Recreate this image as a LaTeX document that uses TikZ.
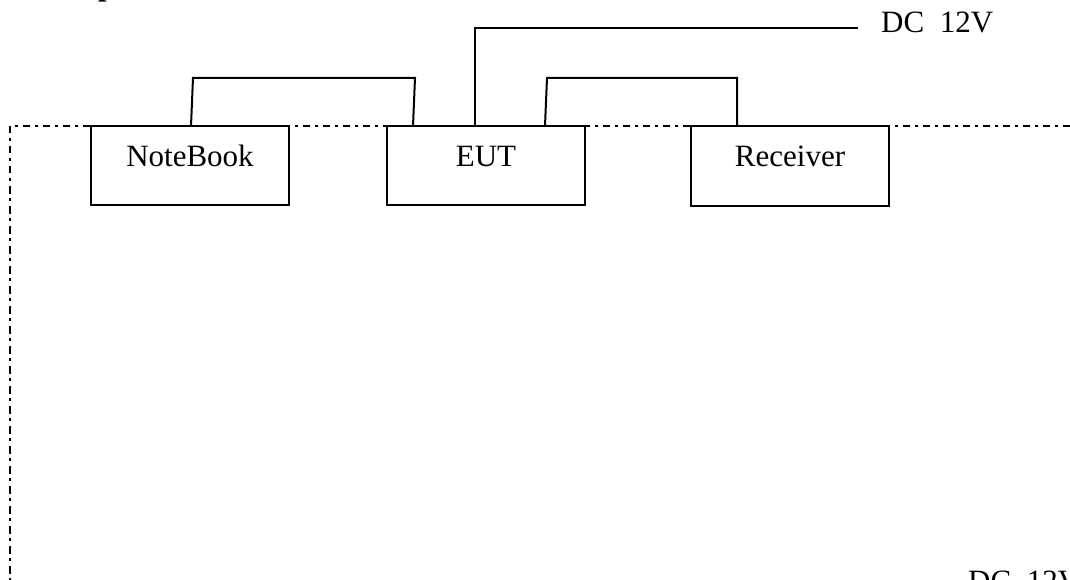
\documentclass[tikz,border=0pt]{standalone}
\usepackage{fontspec}
\setmainfont{Liberation Serif}
\usetikzlibrary{calc}
\tikzset{
  unitbox/.style={draw=black, line width=2pt, fill=white, rectangle, minimum width=198pt, minimum height=79pt, inner sep=0pt},
  lbl/.style={inner sep=0pt, font=\fontsize{31}{36}\selectfont, anchor=base},
  cable/.style={draw=black, line width=2pt},
  frame/.style={draw=black, line width=2.2pt, dash pattern=on 7.5pt off 4.5pt on 3pt off 5pt}
}
\begin{document}
\begin{tikzpicture}[x=1pt, y=-1pt]
\useasboundingbox (0,0) rectangle (1070,580);
% partially visible bold heading letter at the top edge
\node[inner sep=0pt, anchor=base west, font=\fontsize{31}{36}\selectfont\bfseries] (hd) at (98,-4) {p};
% dash-dot frame
\draw[frame] (1070,126) -- (10,126) -- (10,580);
% boxes
\node[unitbox] (nb) at (190,165.5) {};
\node[unitbox] (eut) at (486,165.5) {};
\node[unitbox] (rx) at (790,166) {};
\node[lbl] (nbl) at (190,167) {NoteBook};
\node[lbl] (eutl) at (486,167) {EUT};
\node[lbl] (rxl) at (790,167) {Receiver};
% DC labels
\node[lbl, anchor=base west] (dc) at (881,33) {DC\ \ 12V};
\node[lbl, anchor=base west] (dc2) at (968,591) {DC\ \ 12V};
% connection points
\coordinate (nbp) at (191,126);
\coordinate (eutpa) at (413,126);
\coordinate (eutpb) at (475,126);
\coordinate (eutpc) at (545,126);
\coordinate (rxp) at (737,126);
\coordinate (dcend) at (858,28);
% cables
\draw[cable, line join=miter] (nbp) -- (193,78) -- (415,78) -- (eutpa);
\draw[cable, line join=miter] (eutpb) -- (475,28) -- (dcend);
\draw[cable, line join=miter] (eutpc) -- (547,78) -- (737,78) -- (rxp);
\end{tikzpicture}
\end{document}
